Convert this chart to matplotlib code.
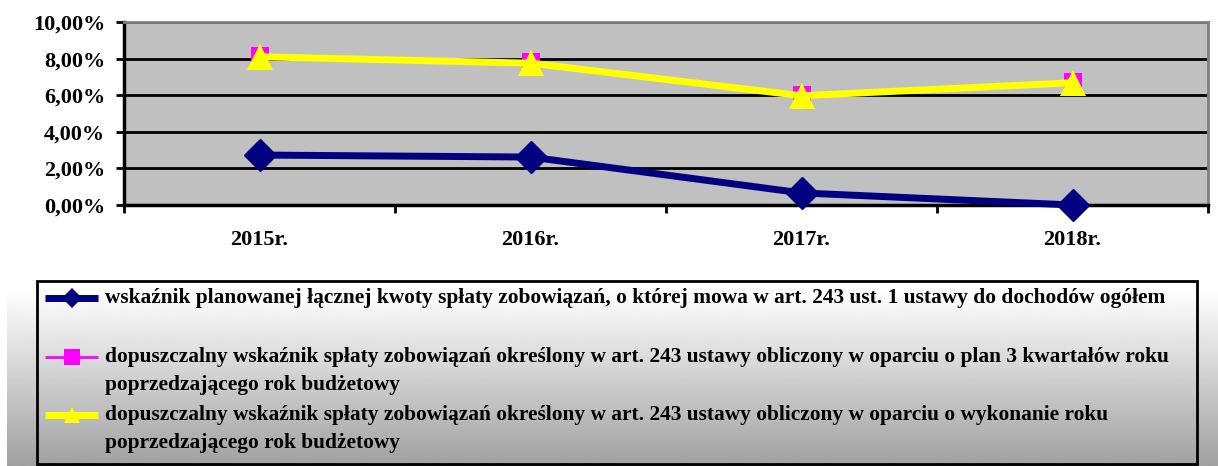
import numpy as np
import matplotlib.pyplot as plt
from matplotlib.ticker import FuncFormatter, FixedLocator
from matplotlib.patches import Rectangle

years = ["2015r.", "2016r.", "2017r.", "2018r."]
wsk_plan = [2.73, 2.62, 0.66, 0.0]           # blue
dop_plan3 = [8.15, 7.80, 6.02, 6.72]         # magenta
dop_wyk = [8.10, 7.75, 5.97, 6.68]           # yellow

labels = [
    ["wskaźnik planowanej łącznej kwoty spłaty zobowiązań, o której mowa w art. 243 ust. 1 ustawy do dochodów ogółem"],
    ["dopuszczalny wskaźnik spłaty zobowiązań określony w art. 243 ustawy obliczony w oparciu o plan 3 kwartałów roku",
     "poprzedzającego rok budżetowy"],
    ["dopuszczalny wskaźnik spłaty zobowiązań określony w art. 243 ustawy obliczony w oparciu o wykonanie roku",
     "poprzedzającego rok budżetowy"],
]

plt.rcParams['font.family'] = ['Liberation Serif', 'DejaVu Serif']
plt.rcParams['font.weight'] = 'bold'

W, H = 1218, 466
fig = plt.figure(figsize=(W / 100, H / 100), dpi=100)

# background gradient + legend area (pixel coords)
bg = fig.add_axes([0, 0, 1, 1], zorder=0)
bg.set_xlim(0, W)
bg.set_ylim(H, 0)
bg.axis('off')
grad = np.linspace(1.0, 0.63, 200).reshape(-1, 1)
bg.imshow(grad, cmap='gray', vmin=0, vmax=1, extent=[7, W, H, 290], aspect='auto')
bg.add_patch(Rectangle((37, 281), 1160, 183, fill=False, ec='black', lw=2))

colors = ['#000080', '#ff00ff', '#ffff00']
lws = [5, 2, 5]
markers = ['D', 's', '^']
msizes = [10, 11, 12]
hy = [298, 357, 415]
for i in range(3):
    bg.plot([45, 98], [hy[i], hy[i]], color=colors[i], lw=lws[i], solid_capstyle='butt')
    bg.plot([71.5], [hy[i]], color=colors[i], marker=markers[i], markersize=msizes[i], mew=0)
line_y = [[298], [357, 385], [415, 443]]
for i in range(3):
    for txt, y in zip(labels[i], line_y[i]):
        bg.text(105, y, txt, fontsize=15.4, fontweight='bold', va='center', ha='left')

# main chart
ax = fig.add_axes([124 / W, (H - 205) / H, 1084 / W, 183 / H], zorder=2)
ax.set_facecolor('#c0c0c0')
x = np.arange(len(years))
ax.plot(x, wsk_plan, color='#000080', lw=5, marker='D', markersize=16, zorder=3, clip_on=False)
ax.plot(x, dop_plan3, color='#ff00ff', lw=2, marker='s', markersize=13, mew=0, zorder=4)
ax.plot(x, dop_wyk, color='#ffff00', lw=5, marker='^', markersize=19, mew=0, zorder=5)

ax.set_xlim(-0.5, 3.5)
ax.set_ylim(0, 10)
ax.set_yticks([0, 2, 4, 6, 8, 10])
ax.yaxis.set_major_formatter(FuncFormatter(lambda v, p: f"{v:.2f}%".replace('.', ',')))
ax.yaxis.grid(True, color='black', lw=2)
ax.set_axisbelow(True)
ax.set_xticks(x)
ax.set_xticklabels(years)
ax.xaxis.set_minor_locator(FixedLocator([-0.5, 0.5, 1.5, 2.5, 3.5]))
ax.tick_params(axis='x', which='major', length=0, pad=18, labelsize=16)
ax.tick_params(axis='x', which='minor', length=6, width=2, direction='out')
ax.tick_params(axis='y', length=6, width=2, pad=7.5, labelsize=16)
for s in ['left', 'bottom']:
    ax.spines[s].set_linewidth(2.5)
    ax.spines[s].set_color('black')
for s in ['top', 'right']:
    ax.spines[s].set_linewidth(2)
    ax.spines[s].set_color('#808080')
for lab in ax.get_xticklabels() + ax.get_yticklabels():
    lab.set_fontweight('bold')

fig.savefig('out.png', dpi=100)
